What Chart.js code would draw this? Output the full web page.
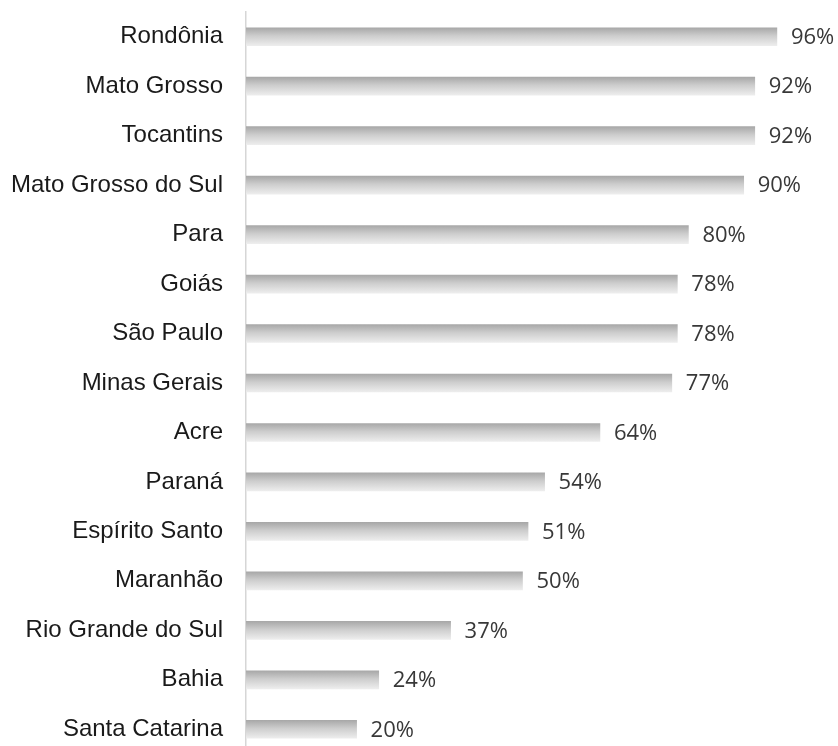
<!DOCTYPE html>
<html>
<head>
<meta charset="utf-8">
<script src="https://cdn.jsdelivr.net/npm/chart.js@4/dist/chart.umd.min.js"></script>
<style>
  html, body { margin: 0; padding: 0; background: #fff; overflow: hidden; }
  canvas { display: block; }
</style>
</head>
<body>
<canvas id="estados" width="838" height="760"></canvas>
<script>
// estados e percentuais
const estados = [
  'Rondônia', 'Mato Grosso', 'Tocantins', 'Mato Grosso do Sul', 'Para',
  'Goiás', 'São Paulo', 'Minas Gerais', 'Acre', 'Paraná',
  'Espírito Santo', 'Maranhão', 'Rio Grande do Sul', 'Bahia', 'Santa Catarina'
];
const percentuais = [96, 92, 92, 90, 80, 78, 78, 77, 64, 54, 51, 50, 37, 24, 20];

const BAR_H = 18;

// gradiente vertical de cada barra (escuro em cima, claro embaixo)
function barGradient(c) {
  if (c.dataIndex === undefined) return '#c8c8c8';
  const chart = c.chart;
  const y = chart.scales.y ? chart.scales.y.getPixelForValue(c.dataIndex) : NaN;
  if (!isFinite(y)) return '#c8c8c8';
  const g = chart.ctx.createLinearGradient(0, y - BAR_H / 2, 0, y + BAR_H / 2);
  g.addColorStop(0, '#a8a8a8');
  g.addColorStop(0.45, '#cdcdcd');
  g.addColorStop(1, '#ededed');
  return g;
}

// rótulos de valor à direita das barras
const valueLabels = {
  id: 'valueLabels',
  afterDatasetsDraw(chart) {
    const ctx = chart.ctx;
    const meta = chart.getDatasetMeta(0);
    ctx.save();
    ctx.font = '22px "Open Sans", sans-serif';
    ctx.fillStyle = '#383838';
    ctx.textAlign = 'left';
    ctx.textBaseline = 'middle';
    meta.data.forEach((bar, i) => {
      ctx.fillText(percentuais[i] + '%', bar.x + 14, bar.y + 1);
    });
    ctx.restore();
  }
};

new Chart(document.getElementById('estados'), {
  type: 'bar',
  data: {
    labels: estados,
    datasets: [{
      data: percentuais,
      backgroundColor: barGradient,
      borderWidth: 0,
      barThickness: BAR_H
    }]
  },
  options: {
    indexAxis: 'y',
    responsive: false,
    animation: false,
    layout: { padding: { top: 12, right: 39, bottom: 6, left: 0 } },
    plugins: {
      legend: { display: false },
      tooltip: { enabled: false }
    },
    scales: {
      x: {
        display: false,
        min: 0,
        max: 100
      },
      y: {
        afterFit(scale) {
          scale.width = 246;
          scale.paddingTop = 0;
          scale.paddingBottom = 0;
        },
        grid: { display: false },
        border: { display: true, color: '#d6d6d6', width: 1.5 },
        ticks: {
          padding: 15,
          color: '#1a1a1a',
          font: { family: '"Liberation Sans", Arial, sans-serif', size: 24 }
        }
      }
    }
  },
  plugins: [valueLabels]
});
</script>
</body>
</html>
